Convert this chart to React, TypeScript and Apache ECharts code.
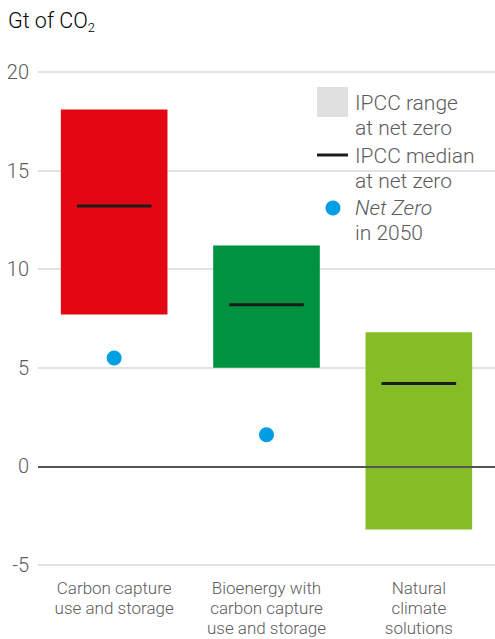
import React, { useEffect, useRef } from "react";
import * as echarts from "echarts";

const categories = [
  "Carbon capture\nuse and storage",
  "Bioenergy with\ncarbon capture\nuse and storage",
  "Natural\nclimate\nsolutions",
];
const rangeLow = [7.7, 5.0, -3.2];
const rangeHigh = [18.1, 11.2, 6.8];
const medians = [13.2, 8.2, 4.2];
const netZero2050: (number | string)[] = [5.5, 1.6, "-"];
const yTicks = { min: -5, max: 20, interval: 5 };
const barColors = ["#E30613", "#00923F", "#86BC25"];

const FONT = "Roboto, 'Liberation Sans', sans-serif";
const TEXT = "#5c5c5c";
const FW = 300;
const LEG_FS = 21;
const LEG_LH = 25;

export default function App() {
  const ref = useRef<HTMLDivElement>(null);
  useEffect(() => {
    if (!ref.current) return;
    const chart = echarts.init(ref.current, undefined, { renderer: "svg" });
    const legText = (extra: any) => ({
      fontFamily: FONT,
      fontWeight: FW,
      fontSize: LEG_FS,
      lineHeight: LEG_LH,
      fill: TEXT,
      ...extra,
    });
    const option: any = {
      animation: false,
      textStyle: { fontFamily: FONT, fontWeight: FW },
      grid: {
        left: 38,
        right: 0,
        top: 72,
        bottom: 74,
        containLabel: false,
        outerBoundsMode: "none",
      },
      xAxis: {
        type: "category",
        data: categories,
        axisLine: { show: false },
        axisTick: { show: false },
        axisLabel: {
          fontFamily: FONT,
          fontWeight: FW,
          fontSize: 17,
          lineHeight: 20,
          color: TEXT,
          margin: 13,
          interval: 0,
        },
      },
      yAxis: {
        type: "value",
        min: yTicks.min,
        max: yTicks.max,
        interval: yTicks.interval,
        axisLine: { show: false },
        axisTick: { show: false },
        splitLine: { lineStyle: { color: "#d9d9d9", width: 1.5 } },
        axisLabel: { fontFamily: FONT, fontWeight: FW, fontSize: 20, color: TEXT, margin: 9 },
      },
      series: [
        {
          type: "custom",
          name: "IPCC range at net zero",
          z: 2,
          encode: { x: 0, y: [1, 2] },
          data: categories.map((_, i) => [i, rangeLow[i], rangeHigh[i]]),
          renderItem: (params: any, api: any) => {
            const i = api.value(0);
            const lo = api.coord([i, api.value(1)]);
            const hi = api.coord([i, api.value(2)]);
            const w = api.size([1, 0])[0] * 0.7;
            return {
              type: "rect",
              shape: { x: lo[0] - w / 2, y: hi[1], width: w, height: lo[1] - hi[1] },
              style: { fill: barColors[i] },
            };
          },
        },
        {
          type: "custom",
          name: "IPCC median at net zero",
          z: 3,
          encode: { x: 0, y: 1 },
          data: categories.map((_, i) => [i, medians[i]]),
          renderItem: (params: any, api: any) => {
            const i = api.value(0);
            const p = api.coord([i, api.value(1)]);
            const w = api.size([1, 0])[0] * 0.49;
            return {
              type: "line",
              shape: { x1: p[0] - w / 2, y1: p[1], x2: p[0] + w / 2, y2: p[1] },
              style: { stroke: "#1c1c1c", lineWidth: 3 },
            };
          },
        },
        {
          type: "scatter",
          name: "Net Zero in 2050",
          z: 4,
          symbol: "circle",
          symbolSize: 15,
          itemStyle: { color: "#009FE3", opacity: 1 },
          data: netZero2050,
          markLine: {
            silent: true,
            symbol: "none",
            label: { show: false },
            lineStyle: { color: "#555555", width: 2, type: "solid" },
            data: [{ yAxis: 0 }],
            z: 6,
          },
        },
      ],
      graphic: [
        {
          type: "text",
          left: 8,
          top: 9,
          style: {
            text: "{a|Gt of CO}{s|2}",
            rich: {
              a: { fontFamily: FONT, fontWeight: FW, fontSize: 21.5, color: TEXT, lineHeight: 27 },
              s: {
                fontFamily: FONT,
                fontWeight: FW,
                fontSize: 13,
                color: TEXT,
                lineHeight: 9,
                verticalAlign: "bottom",
              },
            },
          },
        },
        {
          type: "group",
          z: 10,
          children: [
            { type: "rect", shape: { x: 310, y: 84, width: 182, height: 162 }, style: { fill: "#ffffff" } },
            { type: "rect", shape: { x: 317, y: 87, width: 31, height: 30 }, style: { fill: "#e0e0e0" } },
            {
              type: "line",
              shape: { x1: 317, y1: 155, x2: 348, y2: 155 },
              style: { stroke: "#1c1c1c", lineWidth: 3 },
            },
            { type: "circle", shape: { cx: 333, cy: 208, r: 7.5 }, style: { fill: "#009FE3" } },
            {
              type: "text",
              x: 355,
              y: 90.5,
              style: legText({ text: "IPCC range\nat net zero" }),
            },
            {
              type: "text",
              x: 355,
              y: 143,
              style: legText({ text: "IPCC median\nat net zero" }),
            },
            {
              type: "text",
              x: 355,
              y: 195.5,
              style: {
                text: "{i|Net Zero}\n{n|in 2050}",
                fill: TEXT,
                rich: {
                  i: legText({ fontStyle: "italic" }),
                  n: legText({}),
                },
              },
            },
          ],
        },
      ],
    };
    chart.setOption(option);
    return () => chart.dispose();
  }, []);
  return (
    <div
      ref={ref}
      style={{ position: "fixed", left: 0, top: 0, width: 495, height: 639, background: "#fff" }}
    />
  );
}
